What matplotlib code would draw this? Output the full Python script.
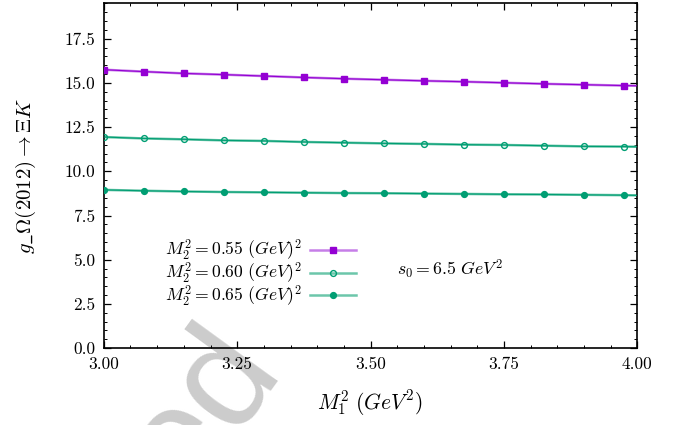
import matplotlib
matplotlib.use("Agg")
import matplotlib.pyplot as plt
from matplotlib.lines import Line2D
from matplotlib.ticker import MultipleLocator, FormatStrFormatter

plt.rcParams["font.family"] = "serif"
plt.rcParams["font.serif"] = ["cmr10", "DejaVu Serif"]
plt.rcParams["mathtext.fontset"] = "cm"
plt.rcParams["axes.formatter.use_mathtext"] = True

# M1^2 grid (last point only carries the line to the frame edge, no marker)
m1sq = [3.000, 3.075, 3.150, 3.225, 3.300, 3.375, 3.450, 3.525,
        3.600, 3.675, 3.750, 3.825, 3.900, 3.975, 4.000]
g_055 = [15.75, 15.64, 15.54, 15.47, 15.39, 15.31, 15.24, 15.18,
         15.12, 15.07, 15.01, 14.95, 14.90, 14.85, 14.84]
g_060 = [11.94, 11.86, 11.81, 11.75, 11.72, 11.66, 11.62, 11.58,
         11.55, 11.51, 11.49, 11.45, 11.41, 11.40, 11.39]
g_065 = [8.95, 8.90, 8.86, 8.83, 8.81, 8.79, 8.77, 8.76,
         8.74, 8.72, 8.70, 8.69, 8.67, 8.65, 8.64]
labels = [r"$M_2^2 = 0.55\ (GeV)^2$",
          r"$M_2^2 = 0.60\ (GeV)^2$",
          r"$M_2^2 = 0.65\ (GeV)^2$"]

series = [
    (g_055, "#9400D3", "#c67ee8", "s", "#9400D3"),
    (g_060, "#009E73", "#6cc6aa", "o", "none"),
    (g_065, "#009E73", "#6cc6aa", "o", "#009E73"),
]

fig = plt.figure(figsize=(6.83, 4.25), dpi=100)
ax = fig.add_axes([0.152, 0.181, 0.781, 0.811])
ax.set_facecolor("none")

# faint watermark behind the axes
fig.text(0.412, 0.136, "ed", rotation=54, rotation_mode="anchor",
         ha="right", va="baseline", fontsize=106, family="Liberation Sans",
         color="#cccccc", zorder=-5)

marks = list(range(len(m1sq) - 1))
handles = []
for (vals, dark, light, mk, mfc), lab in zip(series, labels):
    ms = 5 if mk == "s" else 4.2
    ax.plot(m1sq, vals, color=light, lw=1.8, zorder=2)
    ax.plot(m1sq, vals, color=dark, lw=0.8, marker=mk, ms=ms, mfc=mfc,
            mec=dark, mew=1.0, markevery=marks, zorder=3)
    handles.append(Line2D([], [], color=light, lw=1.8, marker=mk, ms=ms,
                          mfc=mfc, mec=dark, mew=1.0))

leg = ax.legend(handles, labels, loc="center left", bbox_to_anchor=(0.114, 0.216),
                frameon=False, markerfirst=False, fontsize=12.7, handlelength=2.6,
                handletextpad=0.5, labelspacing=-0.12, borderpad=0, borderaxespad=0)

ax.text(0.55, 0.229, r"$s_0 = 6.5\ GeV^2$", transform=ax.transAxes,
        ha="left", va="center", fontsize=12.8)

ax.set_xlim(3.0, 4.0)
ax.set_ylim(0, 19.5)
ax.xaxis.set_major_locator(MultipleLocator(0.25))
ax.xaxis.set_minor_locator(MultipleLocator(0.05))
ax.yaxis.set_major_locator(MultipleLocator(2.5))
ax.yaxis.set_minor_locator(MultipleLocator(0.5))
ax.xaxis.set_major_formatter(FormatStrFormatter("%.2f"))
ax.yaxis.set_major_formatter(FormatStrFormatter("%.1f"))
ax.tick_params(which="both", direction="in", top=True, right=True, labelsize=12.5)
ax.tick_params(which="major", length=5, width=0.9, pad=6)
ax.tick_params(which="minor", length=2.5, width=0.7)
for s in ax.spines.values():
    s.set_linewidth(1.2)

ax.set_xlabel(r"$M_1^2\ (GeV^2)$", fontsize=15.5, labelpad=12)
ax.set_ylabel(r"$g\_\Omega(2012) \rightarrow \Xi K$", fontsize=15, labelpad=19)

fig.savefig("out.png", dpi=100)
